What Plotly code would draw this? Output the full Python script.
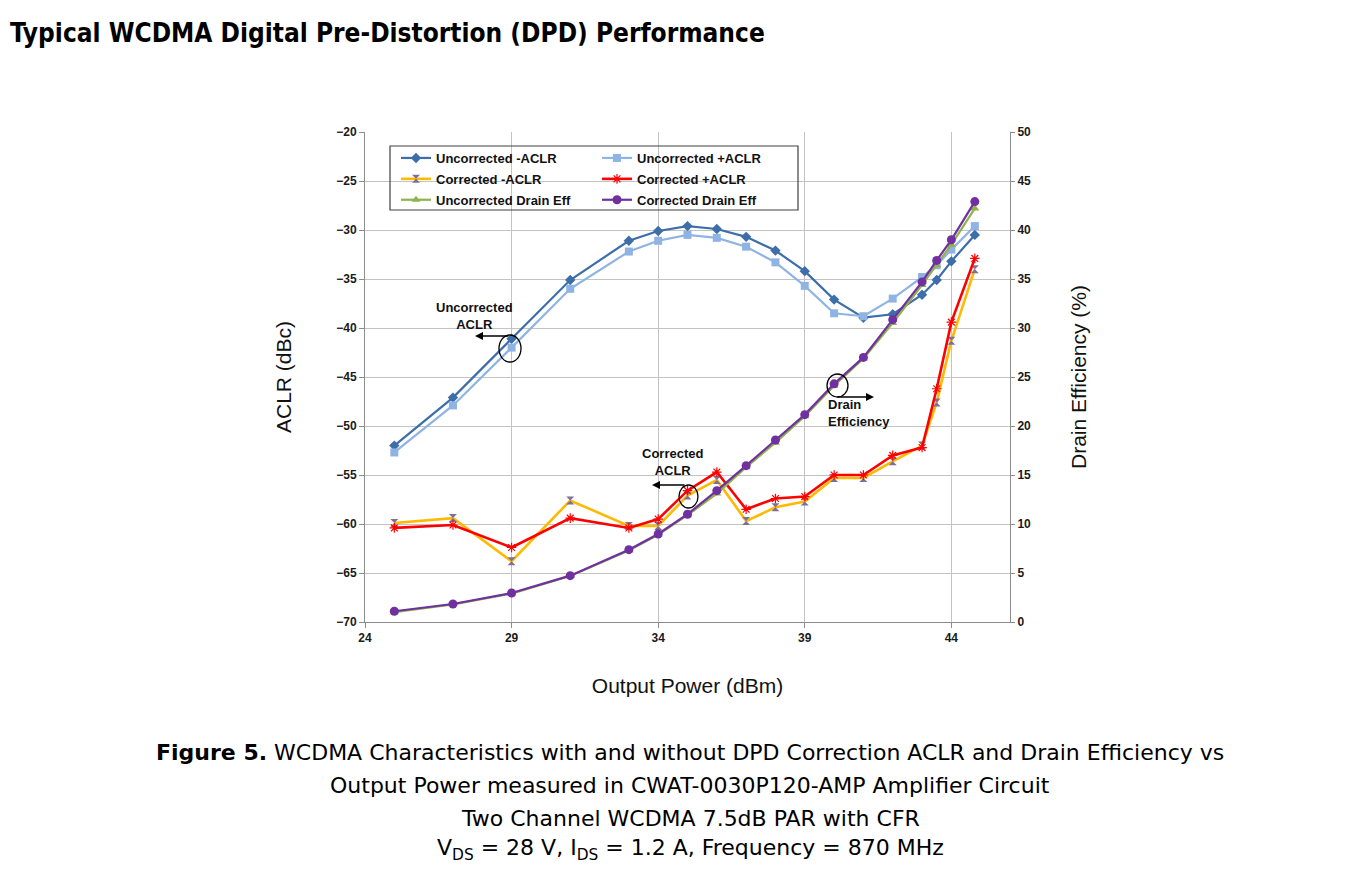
import plotly.graph_objects as go

# ---------------- data ----------------
power_dbm = [25, 27, 29, 31, 33, 34, 35, 36, 37, 38, 39, 40, 41, 42, 43, 43.5, 44, 44.8]

unc_minus_aclr = [-52.0, -47.1, -41.1, -35.1, -31.1, -30.1, -29.6, -29.9, -30.7, -32.1,
                  -34.2, -37.1, -38.95, -38.6, -36.6, -35.1, -33.2, -30.5]
unc_plus_aclr = [-52.7, -47.9, -42.0, -36.0, -32.2, -31.1, -30.5, -30.8, -31.7, -33.3,
                 -35.7, -38.5, -38.8, -37.0, -34.8, -33.6, -32.0, -29.6]
cor_minus_aclr = [-59.9, -59.4, -63.8, -57.6, -60.2, -60.2, -57.1, -55.5, -59.7, -58.3,
                  -57.7, -55.3, -55.3, -53.6, -52.0, -47.6, -41.3, -34.0]
cor_plus_aclr = [-60.4, -60.1, -62.4, -59.4, -60.4, -59.5, -56.6, -54.7, -58.5, -57.4,
                 -57.2, -55.0, -55.0, -53.0, -52.2, -46.2, -39.4, -32.9]
unc_drain_eff = [1.0, 1.8, 2.9, 4.7, 7.3, 8.9, 10.9, 13.1, 15.8, 18.3,
                 21.0, 24.1, 26.9, 30.5, 34.4, 36.4, 38.5, 42.2]
cor_drain_eff = [1.1, 1.84, 2.96, 4.73, 7.38, 8.98, 11.0, 13.4, 15.95, 18.57,
                 21.16, 24.3, 27.0, 30.85, 34.7, 36.9, 39.0, 42.9]

series_names = ["Uncorrected -ACLR", "Uncorrected +ACLR", "Corrected -ACLR",
                "Corrected +ACLR", "Uncorrected Drain Eff", "Corrected Drain Eff"]

# ---------------- layout geometry (screen pixels; page body has an 8px margin) ----------------
OFF = 8
SW, SH = 1368, 870
W, H = SW - OFF, SH - OFF
L, R, T, B = 365, 1010, 132, 622
PW, PH = R - L, B - T


def px(xp):
    return (xp - L) / PW


def py(yp):
    return (B - yp) / PH


TICK_FONT = dict(family="Liberation Sans, Arial, sans-serif", size=12, color="#1a1a1a", weight="bold")
AX_TITLE_FONT = dict(family="Liberation Sans, Arial, sans-serif", size=21, color="#111111")
GRID = "#c3c3c3"
AXLINE = "#8c8c8c"

fig = go.Figure()

styles = [
    dict(line=dict(color="#3d6ea8", width=2.2),
         marker=dict(symbol="diamond", size=8, color="#3d6ea8")),
    dict(line=dict(color="#8fb4e3", width=2.2),
         marker=dict(symbol="square", size=8, color="#8fb4e3")),
    dict(line=dict(color="#ffb900", width=2.6),
         marker=dict(symbol="hourglass", size=8, color="#7c6f9c")),
    dict(line=dict(color="#ff0000", width=2.6),
         marker=dict(symbol="asterisk-open", size=8, line=dict(color="#ff8a8a", width=1.2))),
    dict(line=dict(color="#8eb34a", width=2.2),
         marker=dict(symbol="triangle-up", size=8, color="#8eb34a")),
    dict(line=dict(color="#7030a0", width=2.2),
         marker=dict(symbol="circle", size=9, color="#7030a0")),
]
ydata = [unc_minus_aclr, unc_plus_aclr, cor_minus_aclr, cor_plus_aclr, unc_drain_eff, cor_drain_eff]
yaxes = ["y", "y", "y", "y", "y2", "y2"]
legends = ["legend", "legend2", "legend", "legend2", "legend", "legend2"]

for i in range(6):
    fig.add_trace(go.Scatter(
        x=power_dbm, y=ydata[i], name=series_names[i], mode="lines+markers",
        yaxis=yaxes[i], legend=legends[i], legendgroup="g%d" % i,
        line=styles[i]["line"], marker=styles[i]["marker"],
    ))

legend_font = dict(family="Liberation Sans, Arial, sans-serif", size=13, color="#111111", weight="bold")
legend_common = dict(xanchor="left", yanchor="top", bgcolor="rgba(0,0,0,0)", borderwidth=0,
                     font=legend_font, tracegroupgap=1, itemwidth=30,
                     orientation="v")

fig.update_layout(
    width=W, height=H,
    margin=dict(l=L - OFF, r=SW - R, t=T - OFF, b=SH - B, pad=0),
    paper_bgcolor="white", plot_bgcolor="white",
    showlegend=True,
    legend=dict(x=px(396), y=py(143), **legend_common),
    legend2=dict(x=px(597), y=py(143), **legend_common),
    xaxis=dict(
        range=[24, 46], tick0=24, dtick=5, showgrid=True, gridcolor=GRID, gridwidth=1,
        zeroline=False, showline=True, linecolor=AXLINE, linewidth=1,
        ticks="outside", ticklen=5, tickcolor=AXLINE,
        tickfont=TICK_FONT,
        title=dict(text="Output Power (dBm)", font=AX_TITLE_FONT, standoff=33),
    ),
    yaxis=dict(
        range=[-70, -20], tick0=-70, dtick=5, showgrid=True, gridcolor=GRID, gridwidth=1,
        zeroline=False, showline=True, linecolor=AXLINE, linewidth=1,
        ticks="outside", ticklen=5, tickcolor=AXLINE,
        tickfont=TICK_FONT,
        title=dict(text="ACLR (dBc)", font=AX_TITLE_FONT, standoff=38),
    ),
    yaxis2=dict(
        range=[0, 50], tick0=0, dtick=5, overlaying="y", side="right",
        showgrid=False, zeroline=False, showline=True, linecolor=AXLINE, linewidth=1,
        ticks="outside", ticklen=4, tickcolor=AXLINE,
        tickfont=TICK_FONT,
        title=dict(text="Drain Efficiency (%)", font=AX_TITLE_FONT, standoff=41),
    ),
    title=dict(
        text="<b>Typical WCDMA Digital Pre-Distortion (DPD) Performance</b>",
        x=(10 - OFF) / W, xanchor="left", xref="container",
        y=1 - (33 - OFF) / H, yanchor="middle", yref="container",
        font=dict(family="DejaVu Sans Condensed, DejaVu Sans, sans-serif", size=26, color="#000000"),
    ),
)

shapes = [
    # legend frame
    dict(type="rect", xref="paper", yref="paper", x0=px(390), x1=px(798), y0=py(146), y1=py(210),
         line=dict(color="#404040", width=1.2), fillcolor="rgba(0,0,0,0)", layer="above"),
    # ellipses around callout points
    dict(type="circle", xref="paper", yref="paper", x0=px(499), x1=px(521), y0=py(335), y1=py(362),
         line=dict(color="#000000", width=1.3)),
    dict(type="circle", xref="paper", yref="paper", x0=px(679), x1=px(698), y0=py(485), y1=py(508),
         line=dict(color="#000000", width=1.3)),
    dict(type="circle", xref="paper", yref="paper", x0=px(827), x1=px(848), y0=py(374), y1=py(397),
         line=dict(color="#000000", width=1.3)),
]
fig.update_layout(shapes=shapes)

ann_font = dict(family="Liberation Sans, Arial, sans-serif", size=13, color="#111111")
annotations = [
    dict(xref="paper", yref="paper", x=px(474), y=py(316), text="<b>Uncorrected<br>ACLR</b>",
         showarrow=False, align="center", font=ann_font, xanchor="center", yanchor="middle"),
    dict(xref="paper", yref="paper", x=px(672), y=py(462), text="<b>Corrected<br>ACLR</b>",
         showarrow=False, align="center", font=ann_font, xanchor="center", yanchor="middle"),
    dict(xref="paper", yref="paper", x=px(826), y=py(413), text="<b>Drain<br>Efficiency</b>",
         showarrow=False, align="left", font=ann_font, xanchor="left", yanchor="middle"),
    # arrows
    dict(xref="paper", yref="paper", x=px(475), y=py(336), ax=35, ay=0, text="",
         showarrow=True, arrowhead=2, arrowsize=1, arrowwidth=1.6, arrowcolor="#000000"),
    dict(xref="paper", yref="paper", x=px(652), y=py(485), ax=34, ay=0, text="",
         showarrow=True, arrowhead=2, arrowsize=1, arrowwidth=1.6, arrowcolor="#000000"),
    dict(xref="paper", yref="paper", x=px(874), y=py(397), ax=-38, ay=0, text="",
         showarrow=True, arrowhead=2, arrowsize=1, arrowwidth=1.6, arrowcolor="#000000"),
]

cap_font = dict(family="DejaVu Sans, sans-serif", size=22, color="#000000")
caption_lines = [
    "<b>Figure 5.</b> WCDMA Characteristics with and without DPD Correction ACLR and Drain Efficiency vs",
    "Output Power measured in CWAT-0030P120-AMP Amplifier Circuit",
    "Two Channel WCDMA 7.5dB PAR with CFR",
    "V<sub>DS</sub> = 28 V, I<sub>DS</sub> = 1.2 A, Frequency = 870 MHz",
]
caption_y = [752, 785, 818, 849]
for txt, yy in zip(caption_lines, caption_y):
    annotations.append(dict(xref="paper", yref="paper", x=px(690), y=py(yy), text=txt,
                            showarrow=False, xanchor="center", yanchor="middle", font=cap_font))

fig.update_layout(annotations=annotations)

fig.write_html("out.html")
